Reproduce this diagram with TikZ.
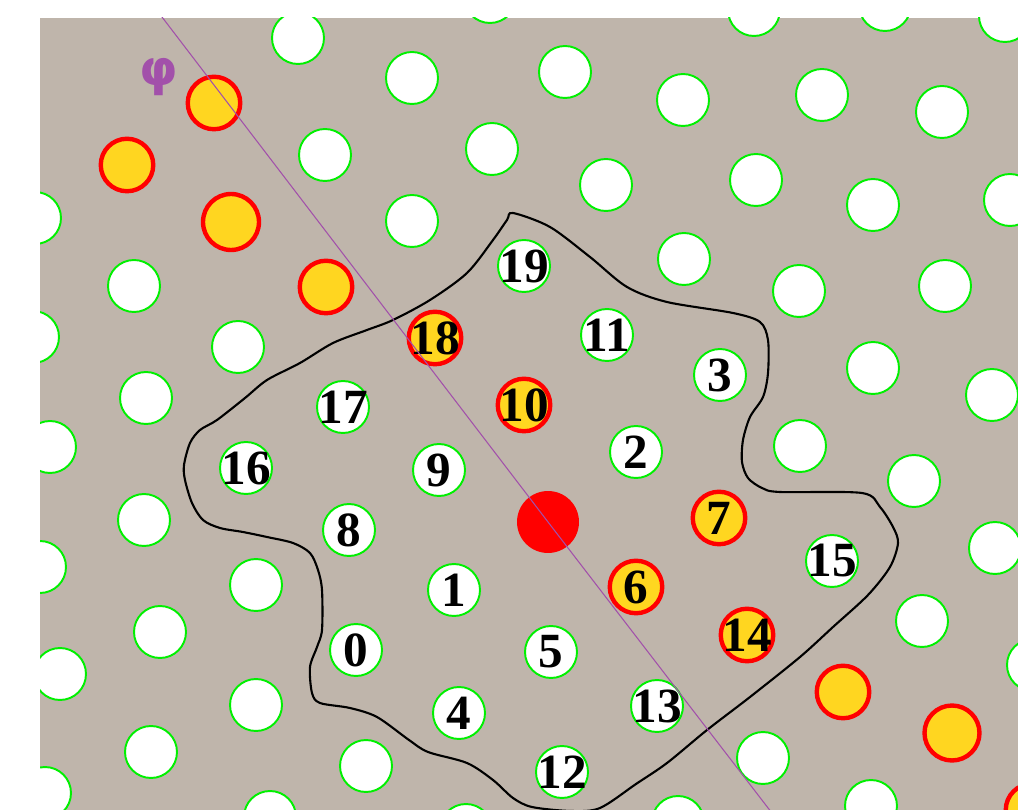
\documentclass[tikz,border=0pt]{standalone}
\usepackage{fontspec}
\setmainfont{Liberation Serif}
\newfontfamily\phifont{DejaVu Sans}
\usetikzlibrary{positioning}
\definecolor{substrate}{RGB}{191,181,171}
\definecolor{sitegreen}{RGB}{0,240,0}
\definecolor{dopantyellow}{RGB}{255,214,32}
\definecolor{phipurple}{RGB}{162,80,170}

\begin{document}
\begin{tikzpicture}[x=0.02cm, y=-0.02cm,
    site/.style={circle, draw=sitegreen, fill=white, line width=1.1pt, minimum size=1.04cm, inner sep=0pt},
    dopant/.style={circle, draw=red, fill=dopantyellow, line width=2.5pt, minimum size=1.05cm, inner sep=0pt},
    num/.style={font=\bfseries\fontsize{28}{28}\selectfont, inner sep=0pt},
    centre/.style={circle, fill=red, minimum size=1.24cm, inner sep=0pt},
    boundary/.style={black, line width=1.2pt},
    axis/.style={phipurple, line width=0.6pt}
]
\useasboundingbox (0,0) rectangle (1018,810);

% Substrate
\fill[substrate] (40,18) rectangle (1018,810);

\begin{scope}
\clip (40,18) rectangle (1018,810);

% Free lattice sites
\foreach \x/\y [count=\i] in {298/38, 490/-3, 754/10, 885/5, 1005/16,
    412/78, 565/72, 683/100, 822/95, 942/112,
    325/155, 492/149, 606/185, 756/180, 873/205, 1010/200,
    35/218, 412/221, 684/259, 799/291, 945/286,
    134/286, 33/337, 238/347, 873/368, 992/395,
    146/398, 50/447, 800/446, 914/481,
    144/520, 995/548, 40/567, 256/585, 160/632, 922/621, 1033/665,
    60/674, 256/705, 151/752, 763/758, 366/766, 45/793,
    270/817, 466/830, 678/822, 871/806}
    \node[site] (w\i) at (\x,\y) {};

% Occupied sites outside the cluster
\node[dopant] (y1) at (214,103) {};
\node[dopant] (y2) at (127,165) {};
\node[dopant, minimum size=1.12cm] (y3) at (231,222) {};
\node[dopant] (y4) at (326,287) {};
\node[dopant] (y5) at (843,692) {};
\node[dopant, minimum size=1.1cm] (y6) at (952,733) {};
\node[dopant] (y7) at (1032,810) {};

% Numbered sites of the cluster
\node[site, label={[num]center:0}] (s0) at (356,650) {};
\node[site, label={[num]center:1}] (s1) at (454,590) {};
\node[site, label={[num]center:2}] (s2) at (636,452) {};
\node[site, label={[num]center:3}] (s3) at (720,375) {};
\node[site, label={[num]center:4}] (s4) at (459,713) {};
\node[site, label={[num]center:5}] (s5) at (551,652) {};
\node[dopant, label={[num]center:6}] (s6) at (636,587) {};
\node[dopant, label={[num]center:7}] (s7) at (719,518) {};
\node[site, label={[num]center:8}] (s8) at (349,530) {};
\node[site, label={[num]center:9}] (s9) at (439,470) {};
\node[dopant, label={[num]center:10}] (s10) at (524,405) {};
\node[site, label={[num]center:11}] (s11) at (607,335) {};
\node[site, label={[num]center:12}] (s12) at (562,772) {};
\node[site, label={[num]center:13}] (s13) at (657,706) {};
\node[dopant, label={[num]center:14}] (s14) at (747,635) {};
\node[site, label={[num]center:15}] (s15) at (832,561) {};
\node[site, label={[num]center:16}] (s16) at (246,468) {};
\node[site, label={[num]center:17}] (s17) at (343,407) {};
\node[dopant, label={[num]center:18}] (s18) at (435,338) {};
\node[site, label={[num]center:19}] (s19) at (524,266) {};

% Centre
\node[centre] (c) at (548,522) {};

% Cluster boundary
\draw[boundary] plot[smooth cycle, tension=0.5] coordinates {
    (513,213) (550,227) (590,257) (627,287) (667,302) (733,313) (760,322)
    (768,340) (768,373) (763,397) (750,417) (743,440) (742,462) (748,478)
    (762,488) (780,492) (862,493) (880,507) (893,527) (898,543) (890,567)
    (868,595) (833,627) (800,657) (750,697) (707,730) (667,763) (636,784)
    (600,808) (571,811) (532,807) (513,798) (493,780) (467,763) (428,752)
    (409,740) (377,717) (350,708) (320,703) (312,693) (310,667) (317,647)
    (322,630) (322,590) (318,570) (310,553) (293,543) (267,537) (243,532)
    (220,528) (203,520) (192,503) (185,480) (184,465) (190,443) (200,430)
    (217,420) (245,398) (267,380) (300,363) (333,343) (367,330) (393,320)
    (430,300) (467,273) (493,240) (507,220)};

% Axis phi through the centre
\coordinate (phitop) at (149,0);
\coordinate (phibot) at (785,830);
\draw[axis] (phitop) -- (c.center) -- (phibot);
\end{scope}

% Axis label
\node[text=phipurple, font=\phifont\bfseries\fontsize{28}{28}\selectfont] (phi) at (159,77) {φ};

\end{tikzpicture}
\end{document}
